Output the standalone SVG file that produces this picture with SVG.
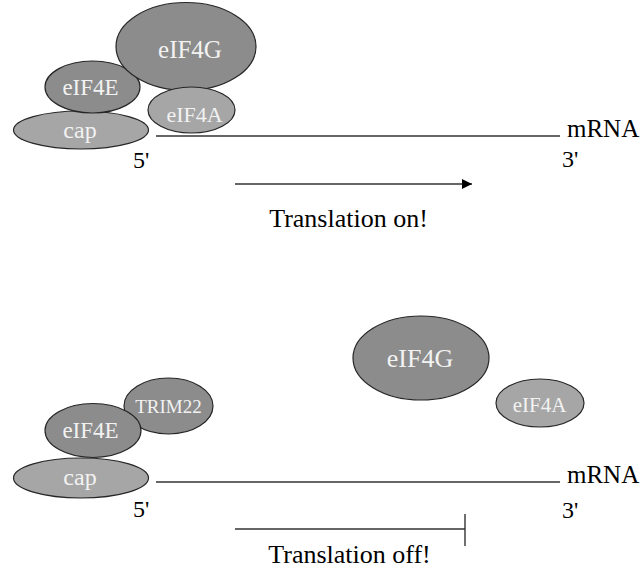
<svg xmlns="http://www.w3.org/2000/svg" width="643" height="574" viewBox="0 0 643 574">
<style>
.dk{fill:#8c8c8c;stroke:#262626;stroke-width:1.2}
.lt{fill:#a6a6a6;stroke:#262626;stroke-width:1.2}
text{font-family:'Liberation Serif','DejaVu Serif',serif}
.lbl{fill:#f2f2f2;text-anchor:middle}
.blk{fill:#000}
.ln{stroke:#333;stroke-width:1.4;fill:none}
</style>
<defs>
<marker id="arr" markerWidth="10" markerHeight="10" refX="10" refY="5" orient="auto" markerUnits="userSpaceOnUse">
<path d="M0,0 L10,5 L0,10 Z" fill="#000"/>
</marker>
</defs>
<rect width="643" height="574" fill="#fff"/>
<g id="connectors">
<line class="ln" x1="156" y1="136" x2="560" y2="136"/>
<line class="ln" x1="235" y1="184" x2="472" y2="184" marker-end="url(#arr)"/>
<line class="ln" x1="156" y1="482" x2="560" y2="482"/>
<line class="ln" x1="235" y1="529" x2="465" y2="529"/>
<line class="ln" x1="465" y1="514" x2="465" y2="546"/>
</g>
<g id="top-cap"><ellipse class="lt" cx="81" cy="130" rx="67.5" ry="19"/><text class="lbl" x="80" y="138" font-size="24" font-family="Liberation Serif, serif">cap</text></g>
<g id="top-eIF4E"><ellipse class="dk" cx="92.5" cy="87" rx="47.5" ry="26"/><text class="lbl" x="90.5" y="95" font-size="23" font-family="Liberation Serif, serif">eIF4E</text></g>
<g id="top-eIF4G"><ellipse class="dk" cx="186" cy="46.5" rx="70" ry="44"/><text class="lbl" x="190" y="58" font-size="25" font-family="Liberation Serif, serif">eIF4G</text></g>
<g id="top-eIF4A"><ellipse class="lt" cx="191.5" cy="110" rx="43.5" ry="23"/><text class="lbl" x="194.5" y="122" font-size="22" font-family="Liberation Serif, serif">eIF4A</text></g>
<g id="top-labels">
<text class="blk" x="567" y="137" font-size="25" font-family="Liberation Serif, serif">mRNA</text>
<text class="blk" x="133" y="168" font-size="24" font-family="Liberation Serif, serif">5'</text>
<text class="blk" x="562" y="167" font-size="24" font-family="Liberation Serif, serif">3'</text>
<text class="blk" x="348.5" y="227" font-size="26" text-anchor="middle" font-family="Liberation Serif, serif">Translation on!</text>
</g>
<g id="bot-TRIM22"><ellipse class="dk" cx="168.5" cy="406" rx="44.5" ry="28"/><text class="lbl" x="168.5" y="413" font-size="19" font-family="Liberation Serif, serif">TRIM22</text></g>
<g id="bot-eIF4E"><ellipse class="dk" cx="93" cy="430.5" rx="48" ry="27"/><text class="lbl" x="90.5" y="438" font-size="23" font-family="Liberation Serif, serif">eIF4E</text></g>
<g id="bot-cap"><ellipse class="lt" cx="81" cy="478" rx="67.5" ry="20"/><text class="lbl" x="80" y="485" font-size="24" font-family="Liberation Serif, serif">cap</text></g>
<g id="bot-eIF4G"><ellipse class="dk" cx="421" cy="358" rx="68" ry="42"/><text class="lbl" x="420" y="367" font-size="26" font-family="Liberation Serif, serif">eIF4G</text></g>
<g id="bot-eIF4A"><ellipse class="lt" cx="540" cy="403" rx="44" ry="24"/><text class="lbl" x="539.5" y="412" font-size="21" font-family="Liberation Serif, serif">eIF4A</text></g>
<g id="bot-labels">
<text class="blk" x="567" y="483" font-size="25" font-family="Liberation Serif, serif">mRNA</text>
<text class="blk" x="133" y="517" font-size="24" font-family="Liberation Serif, serif">5'</text>
<text class="blk" x="562" y="518" font-size="24" font-family="Liberation Serif, serif">3'</text>
<text class="blk" x="349.5" y="563" font-size="26" text-anchor="middle" font-family="Liberation Serif, serif">Translation off!</text>
</g>
</svg>
